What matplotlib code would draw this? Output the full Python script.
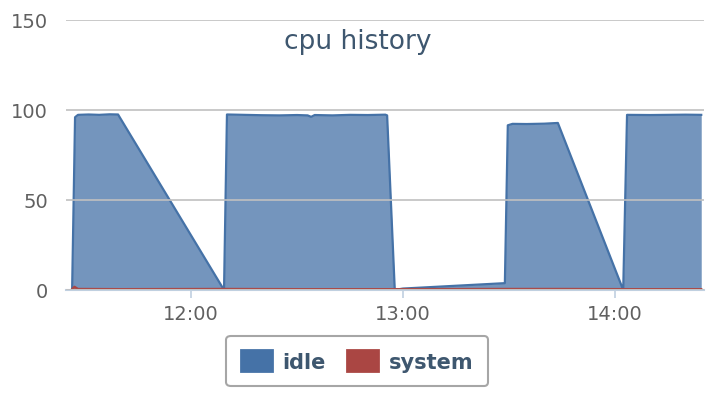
import matplotlib
matplotlib.use('Agg')
import matplotlib.pyplot as plt
import matplotlib.dates as mdates
from matplotlib.patches import Patch
import pandas as pd

day = '2013-05-14 '

idle_times = ['11:26:20', '11:27:10', '11:28:00', '11:31:00', '11:34:00', '11:37:00', '11:39:20',
              '12:09:20', '12:10:10', '12:15:00', '12:20:00', '12:25:00', '12:30:00', '12:33:00',
              '12:34:00', '12:35:00', '12:40:00', '12:45:00', '12:50:00', '12:55:00', '12:55:30',
              '12:57:40', '13:00:00', '13:28:50', '13:29:40', '13:31:00', '13:35:00', '13:40:00',
              '13:43:50', '14:02:20', '14:03:25', '14:10:00', '14:20:00', '14:24:25']
idle_vals = [0, 96, 97.3, 97.5, 97.3, 97.6, 97.5,
             0, 97.5, 97.3, 97.1, 97.0, 97.2, 97.0,
             96.2, 97.2, 97.0, 97.3, 97.2, 97.4, 97.0,
             0, 0.8, 3.8, 91.5, 92.3, 92.2, 92.4,
             92.8, 0, 97.3, 97.2, 97.4, 97.3]

system_times = ['11:26:20', '11:27:00', '11:28:00', '11:40:00', '12:10:00', '12:30:00', '12:57:40',
                '13:29:40', '13:45:00', '14:03:25', '14:24:25']
system_vals = [0.5, 1.8, 0.6, 0.5, 0.6, 0.5, 0.5, 0.6, 0.6, 0.5, 0.5]

xlim = ['11:24:36', '14:25:12']

blue = '#4572A7'
red = '#AA4643'

it = pd.to_datetime([day + t for t in idle_times])
st = pd.to_datetime([day + t for t in system_times])

fig = plt.figure(figsize=(7.14, 4.14), dpi=100)
fig.set_facecolor('white')
ax = fig.add_axes([66 / 714, 1 - 291 / 414, 638 / 714, 270 / 414])

ax.fill_between(it, idle_vals, 0, color=blue, alpha=0.75, lw=0)
ax.plot(it, idle_vals, color=blue, lw=1.6)
ax.fill_between(st, system_vals, 0, color=red, alpha=0.75, lw=0)
ax.plot(st, system_vals, color=red, lw=1.6)

ax.set_ylim(0, 150)
ax.set_yticks([0, 50, 100, 150])
ax.set_xlim(pd.to_datetime(day + xlim[0]), pd.to_datetime(day + xlim[1]))
ax.xaxis.set_major_locator(mdates.HourLocator())
ax.xaxis.set_major_formatter(mdates.DateFormatter('%H:%M'))

ax.grid(axis='y', color='#C0C0C0', lw=1.2)
ax.set_axisbelow(False)
for s in ['top', 'right', 'left']:
    ax.spines[s].set_visible(False)
ax.spines['bottom'].set_color('#C0D0E0')
ax.spines['bottom'].set_linewidth(1.5)
ax.tick_params(axis='y', length=0, pad=13, labelsize=14, labelcolor='#606060')
ax.tick_params(axis='x', length=6, width=1.2, color='#C0D0E0', pad=4, labelsize=14, labelcolor='#606060')

fig.text(358 / 714, 1 - 42 / 414, 'cpu history', ha='center', va='center',
         fontsize=19, color='#3E576F')

handles = [Patch(facecolor=blue, edgecolor=blue, lw=2, joinstyle='round', label='idle'),
           Patch(facecolor=red, edgecolor=red, lw=2, joinstyle='round', label='system')]
leg = fig.legend(handles=handles, loc='center', bbox_to_anchor=(357 / 714, 1 - 362 / 414),
                 ncol=2, frameon=True, fancybox=True, edgecolor='#909090',
                 prop={'weight': 'bold', 'size': 15},
                 handlelength=1.5, handleheight=1.15, columnspacing=1.0, handletextpad=0.5,
                 borderpad=0.7)
leg.get_frame().set_linewidth(1.5)
for t in leg.get_texts():
    t.set_color('#3E576F')

fig.savefig('out.png', dpi=100)
